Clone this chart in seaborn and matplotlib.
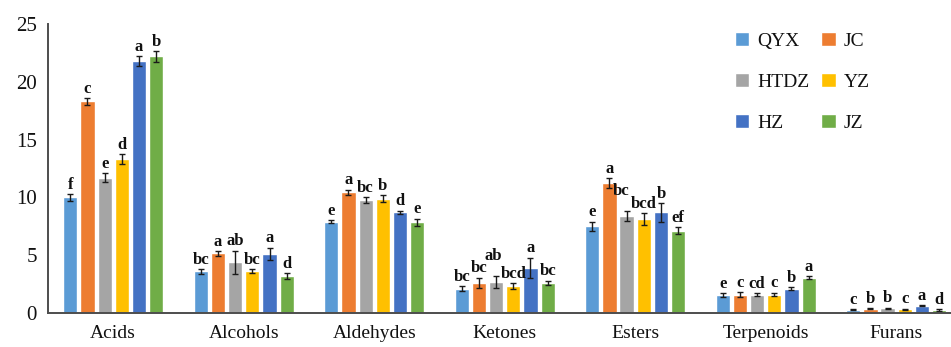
import numpy as np
import pandas as pd
import matplotlib
matplotlib.use("Agg")
import matplotlib.pyplot as plt
from matplotlib.ticker import FixedLocator
import seaborn as sns

categories = ["Acids", "Alcohols", "Aldehydes", "Ketones", "Esters", "Terpenoids", "Furans"]
groups = ["QYX", "JC", "HTDZ", "YZ", "HZ", "JZ"]
colors = ["#5B9BD5", "#ED7D31", "#A5A5A5", "#FFC000", "#4472C4", "#70AD47"]

# mean content per group, one list per sample (order follows categories)
qyx = [10.0, 3.6, 7.9, 2.1, 7.5, 1.55, 0.29]
jc = [18.3, 5.15, 10.45, 2.6, 11.25, 1.6, 0.37]
htdz = [11.7, 4.4, 9.75, 2.7, 8.4, 1.6, 0.42]
yz = [13.3, 3.65, 9.9, 2.35, 8.15, 1.6, 0.32]
hz = [21.8, 5.1, 8.7, 3.9, 8.7, 2.1, 0.62]
jz = [22.2, 3.2, 7.85, 2.6, 7.1, 3.05, 0.26]

# standard deviations
qyx_sd = [0.3, 0.2, 0.15, 0.2, 0.4, 0.15, 0.05]
jc_sd = [0.3, 0.2, 0.2, 0.45, 0.4, 0.2, 0.05]
htdz_sd = [0.4, 1.0, 0.25, 0.5, 0.4, 0.1, 0.05]
yz_sd = [0.45, 0.15, 0.3, 0.25, 0.5, 0.15, 0.05]
hz_sd = [0.4, 0.55, 0.15, 0.9, 0.8, 0.15, 0.05]
jz_sd = [0.45, 0.25, 0.3, 0.2, 0.3, 0.15, 0.05]

# significance letters
qyx_sig = ["f", "bc", "e", "bc", "e", "e", "c"]
jc_sig = ["c", "a", "a", "bc", "a", "c", "b"]
htdz_sig = ["e", "ab", "bc", "ab", "bc", "cd", "b"]
yz_sig = ["d", "bc", "b", "bcd", "bcd", "c", "c"]
hz_sig = ["a", "a", "d", "a", "b", "b", "a"]
jz_sig = ["b", "d", "e", "bc", "ef", "a", "d"]

means = [qyx, jc, htdz, yz, hz, jz]
sds = [qyx_sd, jc_sd, htdz_sd, yz_sd, hz_sd, jz_sd]
sigs = [qyx_sig, jc_sig, htdz_sig, yz_sig, hz_sig, jz_sig]

# extra label nudges (points) where neighbouring letters would collide
nudges = {(2, 3): (-2, 8), (2, 4): (-4, 8)}

df = pd.DataFrame(
    [(c, g, means[gi][ci]) for gi, g in enumerate(groups) for ci, c in enumerate(categories)],
    columns=["category", "group", "value"],
)

sns.set_style("white")
plt.rcParams["font.family"] = ["Liberation Serif", "DejaVu Serif"]

fig = plt.figure(figsize=(9.51, 3.47), dpi=100)
ax = fig.add_axes([48 / 951, 34 / 347, 903 / 951, 289 / 347])

sns.barplot(
    data=df, x="category", y="value", hue="group",
    order=categories, hue_order=groups, palette=colors,
    width=0.79, gap=0.17, errorbar=None, saturation=1, ax=ax,
)

bar_sets = list(ax.containers)
for gi, cont in enumerate(bar_sets):
    xs = [p.get_x() + p.get_width() / 2 for p in cont.patches]
    ax.errorbar(xs, means[gi], yerr=sds[gi], fmt="none", ecolor="#1a1a1a",
                elinewidth=1.0, capsize=2.2, capthick=1.0)
    for ci, (x, m, s, lab) in enumerate(zip(xs, means[gi], sds[gi], sigs[gi])):
        dx, dy = nudges.get((gi, ci), (0, 0))
        ax.annotate(lab, (x, m + s), xytext=(dx, 1 + dy), textcoords="offset points",
                    ha="center", va="bottom", fontsize=12, fontweight="bold",
                    color="#111111")

ax.set_ylim(0, 25)
ax.set_xlim(-0.5, 6.42)
ax.set_yticks([0, 5, 10, 15, 20, 25])
ax.set_xlabel("")
ax.set_ylabel("")

for side in ["top", "right"]:
    ax.spines[side].set_visible(False)
for side in ["left", "bottom"]:
    ax.spines[side].set_color("#4d4d4d")
    ax.spines[side].set_linewidth(1.4)

ax.tick_params(axis="y", direction="in", length=4, width=1.0, color="#4d4d4d",
               labelsize=15, labelcolor="#111111", pad=8)
ax.tick_params(axis="x", which="major", length=0, labelsize=14,
               labelcolor="#111111", pad=9)
ax.xaxis.set_minor_locator(FixedLocator([0.5, 1.5, 2.5, 3.5, 4.5, 5.5]))
ax.tick_params(axis="x", which="minor", direction="in", length=6, width=1.0,
               color="#4d4d4d")

# legend laid out row by row: QYX JC / HTDZ YZ / HZ JZ
handles, labels = ax.get_legend_handles_labels()
order = [0, 2, 4, 1, 3, 5]
leg = ax.legend([handles[i] for i in order], [labels[i] for i in order],
                ncol=2, frameon=False, loc="upper left",
                bbox_to_anchor=(725 / 951, 1 - 22 / 347), bbox_transform=fig.transFigure,
                borderpad=0, handlelength=0.75, handleheight=0.75,
                handletextpad=0.4, labelspacing=1.2, columnspacing=0.6,
                prop={"family": "Liberation Serif", "size": 14})
for t in leg.get_texts():
    t.set_color("#111111")

fig.savefig("out.png", dpi=100)
